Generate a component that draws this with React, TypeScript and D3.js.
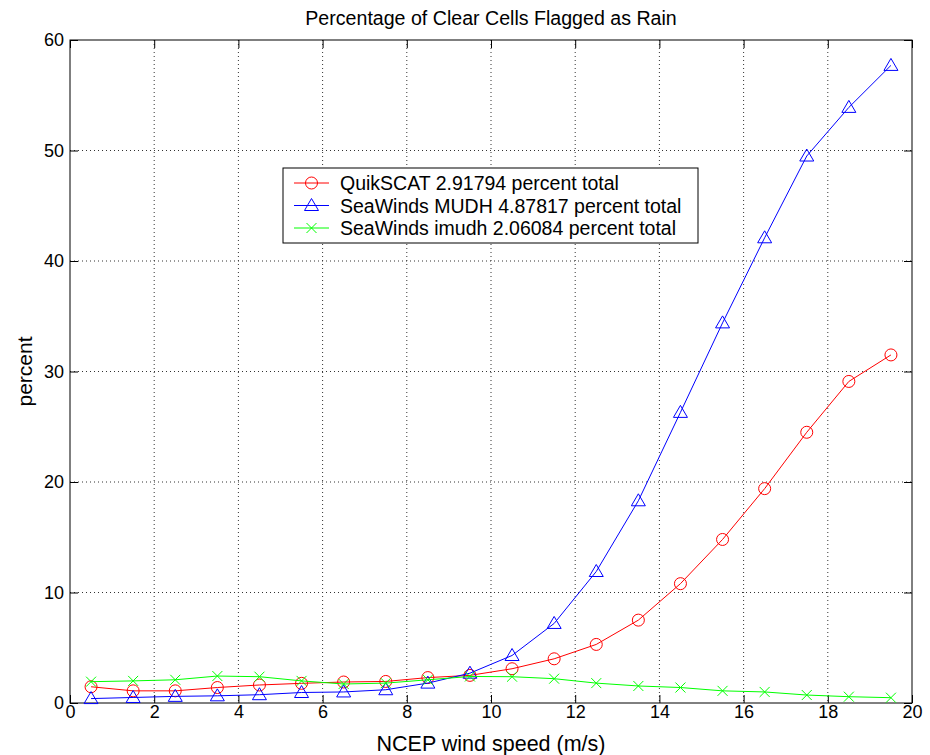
import React, { useEffect, useRef } from 'react';
import * as d3 from 'd3';

const windSpeed = [0.5, 1.5, 2.5, 3.5, 4.5, 5.5, 6.5, 7.5, 8.5, 9.5, 10.5, 11.5, 12.5, 13.5, 14.5, 15.5, 16.5, 17.5, 18.5, 19.5];
const quikscat = [1.47, 1.1, 1.1, 1.4, 1.63, 1.78, 1.9, 1.95, 2.3, 2.5, 3.1, 4.0, 5.3, 7.5, 10.8, 14.8, 19.4, 24.5, 29.1, 31.5];
const mudh = [0.4, 0.5, 0.6, 0.65, 0.75, 0.95, 1.0, 1.2, 1.8, 2.7, 4.3, 7.2, 11.9, 18.3, 26.3, 34.4, 42.1, 49.5, 53.9, 57.7];
const imudh = [1.93, 2.0, 2.1, 2.44, 2.38, 2.0, 1.72, 1.8, 2.1, 2.4, 2.38, 2.2, 1.8, 1.54, 1.4, 1.1, 1.0, 0.72, 0.57, 0.48];
const seriesNames = [
  'QuikSCAT 2.91794 percent total',
  'SeaWinds MUDH 4.87817 percent total',
  'SeaWinds imudh 2.06084 percent total',
];
const xTicks = [0, 2, 4, 6, 8, 10, 12, 14, 16, 18, 20];
const yTicks = [0, 10, 20, 30, 40, 50, 60];

const App = () => {
  const ref = useRef<SVGSVGElement | null>(null);

  useEffect(() => {
    const margin = { top: 40, right: 18, bottom: 52, left: 70 },
      W = 930, H = 755,
      width = W - margin.left - margin.right,
      height = H - margin.top - margin.bottom;
    const font = 'Liberation Sans, Arial, Helvetica, sans-serif';

    const root = d3.select(ref.current);
    root.selectAll('*').remove();
    root.append('rect').attr('width', W).attr('height', H).attr('fill', '#fff');

    const svg = root.append('g').attr('transform', `translate(${margin.left},${margin.top})`);

    const x = d3.scaleLinear().domain([0, 20]).range([0, width]);
    const y = d3.scaleLinear().domain([0, 60]).range([height, 0]);

    // grid
    svg.append('g').selectAll('line').data(xTicks.slice(1, -1)).enter().append('line')
      .attr('x1', d => x(d)).attr('x2', d => x(d)).attr('y1', 0).attr('y2', height)
      .attr('stroke', '#333').attr('stroke-width', 1).attr('stroke-dasharray', '1,3');
    svg.append('g').selectAll('line').data(yTicks.slice(1, -1)).enter().append('line')
      .attr('y1', d => y(d)).attr('y2', d => y(d)).attr('x1', 0).attr('x2', width)
      .attr('stroke', '#333').attr('stroke-width', 1).attr('stroke-dasharray', '1,3');

    // axes, ticks inward
    const styleAxis = (g: any, labels: boolean) => {
      g.select('.domain').remove();
      g.selectAll('line').attr('stroke', '#000');
      g.selectAll('text').attr('font-family', font).attr('font-size', 18).attr('fill', '#000');
      if (!labels) g.selectAll('text').remove();
    };
    svg.append('g').attr('transform', `translate(0,${height})`)
      .call(d3.axisBottom(x).tickValues(xTicks).tickSizeInner(-8).tickSizeOuter(0).tickPadding(2))
      .call((g: any) => styleAxis(g, true));
    svg.append('g')
      .call(d3.axisTop(x).tickValues(xTicks).tickSizeInner(-8).tickSizeOuter(0))
      .call((g: any) => styleAxis(g, false));
    svg.append('g')
      .call(d3.axisLeft(y).tickValues(yTicks).tickSizeInner(-8).tickSizeOuter(0).tickPadding(6))
      .call((g: any) => styleAxis(g, true));
    svg.append('g').attr('transform', `translate(${width},0)`)
      .call(d3.axisRight(y).tickValues(yTicks).tickSizeInner(-8).tickSizeOuter(0))
      .call((g: any) => styleAxis(g, false));

    svg.append('rect').attr('width', width).attr('height', height)
      .attr('fill', 'none').attr('stroke', '#000').attr('stroke-width', 1);

    const series = [
      { values: quikscat, color: '#ff0000', marker: 'circle' },
      { values: mudh, color: '#0000ff', marker: 'triangle' },
      { values: imudh, color: '#00ff00', marker: 'x' },
    ];

    const line = d3.line<number>()
      .x((_, i) => x(windSpeed[i]))
      .y(d => y(d));

    const drawMarker = (g: any, type: string, color: string) => {
      if (type === 'circle') {
        g.append('circle').attr('r', 6).attr('fill', 'none').attr('stroke', color);
      } else if (type === 'triangle') {
        g.append('path').attr('d', 'M0,-7L7,5L-7,5Z').attr('fill', 'none').attr('stroke', color);
      } else {
        g.append('path').attr('d', 'M-5,-5L5,5M-5,5L5,-5').attr('fill', 'none').attr('stroke', color);
      }
    };

    series.forEach(s => {
      svg.append('path').datum(s.values).attr('d', line)
        .attr('fill', 'none').attr('stroke', s.color).attr('stroke-width', 1);
      s.values.forEach((v, i) => {
        const g = svg.append('g').attr('transform', `translate(${x(windSpeed[i])},${y(v)})`);
        drawMarker(g, s.marker, s.color);
      });
    });

    // legend
    const lg = root.append('g').attr('transform', 'translate(283,168)');
    lg.append('rect').attr('width', 415).attr('height', 75)
      .attr('fill', '#fff').attr('stroke', '#000').attr('stroke-width', 1);
    series.forEach((s, i) => {
      const cy = 15 + i * 22.5;
      lg.append('line').attr('x1', 11).attr('x2', 46).attr('y1', cy).attr('y2', cy)
        .attr('stroke', s.color);
      const m = lg.append('g').attr('transform', `translate(28.5,${cy})`);
      drawMarker(m, s.marker, s.color);
      lg.append('text').attr('x', 57).attr('y', cy).attr('dy', '0.36em')
        .attr('font-family', font).attr('font-size', 19.5).text(seriesNames[i]);
    });

    // titles
    root.append('text').attr('x', margin.left + width / 2).attr('y', 25)
      .attr('text-anchor', 'middle').attr('font-family', font).attr('font-size', 19.6)
      .text('Percentage of Clear Cells Flagged as Rain');
    root.append('text').attr('x', margin.left + width / 2).attr('y', 751)
      .attr('text-anchor', 'middle').attr('font-family', font).attr('font-size', 21.5)
      .text('NCEP wind speed (m/s)');
    root.append('text').attr('transform', `translate(32,${margin.top + height / 2}) rotate(-90)`)
      .attr('text-anchor', 'middle').attr('font-family', font).attr('font-size', 21)
      .text('percent');
  }, []);

  return (
    <svg ref={ref} width={930} height={755}
      style={{ position: 'absolute', left: 0, top: 0, display: 'block' }} />
  );
};

export default App;
